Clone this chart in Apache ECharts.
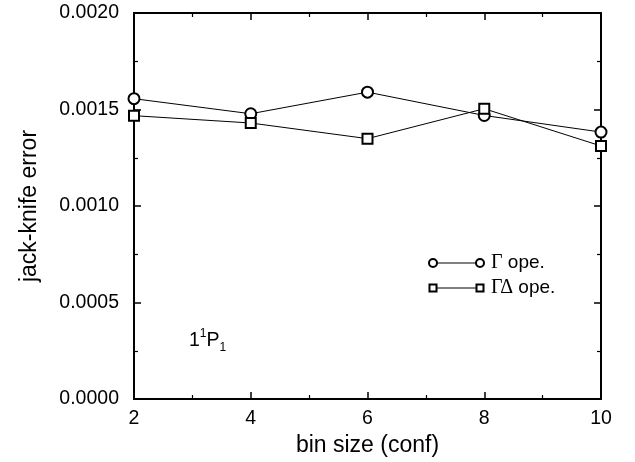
<!DOCTYPE html>
<html>
<head>
<meta charset="utf-8">
<script src="https://cdn.jsdelivr.net/npm/echarts@6/dist/echarts.min.js"></script>
<style>
html,body{margin:0;padding:0;background:#fff;}
#chart{width:635px;height:462px;}
</style>
</head>
<body>
<div id="chart"></div>
<script>
var binSizes = [2, 4, 6, 8, 10];
var gammaOpe = [0.001556, 0.001478, 0.001590, 0.001469, 0.001383];
var gammaDeltaOpe = [0.001468, 0.001430, 0.001349, 0.001504, 0.001311];
var yTicks = [0, 0.0005, 0.0010, 0.0015, 0.0020];
var xTicks = [2, 4, 6, 8, 10];
var seriesNames = ['Γ ope.', 'ΓΔ ope.'];

var FONT = '"Liberation Sans", Arial, Helvetica, sans-serif';
var chart = echarts.init(document.getElementById('chart'), null, {renderer: 'canvas'});

function pairs(xs, ys) { return xs.map(function (x, i) { return [x, ys[i]]; }); }

var axisCommon = {
  axisLine: {show: true, onZero: false, lineStyle: {color: '#000', width: 2}},
  axisTick: {show: true, inside: true, length: 7, lineStyle: {color: '#000', width: 1.5}},
  minorTick: {show: true, splitNumber: 2, length: 4, lineStyle: {color: '#000', width: 1.2}},
  splitLine: {show: false},
  minorSplitLine: {show: false}
};

var option = {
  backgroundColor: '#fff',
  animation: false,
  grid: {left: 134, right: 34, top: 13, bottom: 62, containLabel: false},
  xAxis: [
    Object.assign({
      type: 'value', min: xTicks[0], max: xTicks[xTicks.length - 1], interval: 2, position: 'bottom',
      name: 'bin size (conf)', nameLocation: 'middle', nameGap: 35,
      nameTextStyle: {fontFamily: FONT, fontSize: 23, color: '#000'},
      axisLabel: {fontFamily: FONT, fontSize: 19.5, color: '#000', margin: 10}
    }, axisCommon),
    Object.assign({
      type: 'value', min: xTicks[0], max: xTicks[xTicks.length - 1], interval: 2, position: 'top',
      axisLabel: {show: false}
    }, axisCommon)
  ],
  yAxis: [
    Object.assign({
      type: 'value', min: yTicks[0], max: yTicks[yTicks.length - 1], interval: 0.0005, position: 'left',
      name: 'jack-knife error', nameLocation: 'middle', nameGap: 93, nameRotate: 90,
      nameTextStyle: {fontFamily: FONT, fontSize: 23, color: '#000'},
      axisLabel: {fontFamily: FONT, fontSize: 19.5, color: '#000', margin: 15,
        formatter: function (v) { return v.toFixed(4); }}
    }, axisCommon),
    Object.assign({
      type: 'value', min: yTicks[0], max: yTicks[yTicks.length - 1], interval: 0.0005, position: 'right',
      axisLabel: {show: false}
    }, axisCommon)
  ],
  series: [
    {
      name: seriesNames[0], type: 'line', data: pairs(binSizes, gammaOpe),
      symbol: 'circle', symbolSize: 11, showAllSymbol: true,
      lineStyle: {color: '#000', width: 1},
      itemStyle: {color: '#fff', borderColor: '#000', borderWidth: 2},
      emphasis: {disabled: true}, z: 3
    },
    {
      name: seriesNames[1], type: 'line', data: pairs(binSizes, gammaDeltaOpe),
      symbol: 'rect', symbolSize: 10, showAllSymbol: true,
      lineStyle: {color: '#000', width: 1},
      itemStyle: {color: '#fff', borderColor: '#000', borderWidth: 2},
      emphasis: {disabled: true}, z: 3
    }
  ],
  graphic: [
    // legend row 1
    {type: 'line', shape: {x1: 433, y1: 263, x2: 480, y2: 263}, style: {stroke: '#000', lineWidth: 1}},
    {type: 'circle', shape: {cx: 433, cy: 263, r: 4}, style: {fill: '#fff', stroke: '#000', lineWidth: 2}},
    {type: 'circle', shape: {cx: 480, cy: 263, r: 4}, style: {fill: '#fff', stroke: '#000', lineWidth: 2}},
    {type: 'text', x: 491, y: 263, style: {
      text: '{g|Γ} ope.', fill: '#000', font: '19px ' + FONT, verticalAlign: 'middle',
      rich: {g: {fontFamily: '"Liberation Serif", "Times New Roman", serif', fontSize: 20, fill: '#000'}}
    }},
    // legend row 2
    {type: 'line', shape: {x1: 433, y1: 288, x2: 480, y2: 288}, style: {stroke: '#000', lineWidth: 1}},
    {type: 'rect', shape: {x: 429.5, y: 284.5, width: 7, height: 7}, style: {fill: '#fff', stroke: '#000', lineWidth: 2}},
    {type: 'rect', shape: {x: 476.5, y: 284.5, width: 7, height: 7}, style: {fill: '#fff', stroke: '#000', lineWidth: 2}},
    {type: 'text', x: 491, y: 288, style: {
      text: '{g|ΓΔ} ope.', fill: '#000', font: '19px ' + FONT, verticalAlign: 'middle',
      rich: {g: {fontFamily: '"Liberation Serif", "Times New Roman", serif', fontSize: 20, fill: '#000'}}
    }},
    // state annotation 1^1P_1
    {type: 'text', x: 189, y: 328, style: {
      text: '{n|1}{sup|1}{n|P}{sub|1}', fill: '#000',
      rich: {
        n: {fontFamily: FONT, fontSize: 19.5, fill: '#000', lineHeight: 26},
        sup: {fontFamily: FONT, fontSize: 12, fill: '#000', verticalAlign: 'top', lineHeight: 26, padding: [0, 0, 11, 0]},
        sub: {fontFamily: FONT, fontSize: 12, fill: '#000', verticalAlign: 'bottom', lineHeight: 26, padding: [11, 0, 0, 0]}
      }
    }}
  ]
};
chart.setOption(option);
</script>
</body>
</html>
